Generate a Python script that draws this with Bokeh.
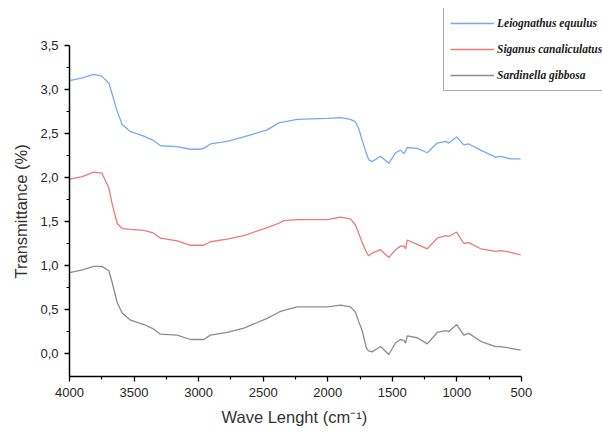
from bokeh.plotting import figure
from bokeh.models import Range1d, FixedTicker, Title
from bokeh.embed import file_html
from bokeh.resources import INLINE

wavenumber = [4000, 3900, 3812, 3750, 3695, 3670, 3631, 3592, 3527, 3424, 3350, 3295, 3166, 3063,
              2990, 2960, 2908, 2779, 2650, 2469, 2379, 2340, 2236, 2004, 1901, 1824, 1785, 1759,
              1733, 1700, 1682, 1656, 1591, 1527, 1475, 1436, 1410, 1397, 1384, 1307, 1229, 1152,
              1087, 1062, 1002, 946, 907, 816, 700, 661, 584, 506]

leiognathus = [3.10, 3.13, 3.17, 3.15, 3.07, 2.95, 2.75, 2.60, 2.52, 2.47, 2.42, 2.36, 2.35, 2.32,
               2.32, 2.33, 2.38, 2.41, 2.46, 2.54, 2.62, 2.63, 2.66, 2.67, 2.68, 2.66, 2.63, 2.55,
               2.42, 2.27, 2.20, 2.18, 2.24, 2.16, 2.28, 2.31, 2.27, 2.30, 2.34, 2.33, 2.28, 2.39,
               2.41, 2.39, 2.46, 2.37, 2.38, 2.31, 2.23, 2.24, 2.21, 2.21]

siganus = [1.98, 2.01, 2.06, 2.05, 1.88, 1.70, 1.48, 1.42, 1.41, 1.40, 1.37, 1.31, 1.28, 1.23,
           1.23, 1.23, 1.27, 1.30, 1.34, 1.43, 1.48, 1.51, 1.52, 1.52, 1.55, 1.53, 1.46, 1.36,
           1.26, 1.15, 1.11, 1.14, 1.18, 1.09, 1.18, 1.22, 1.22, 1.19, 1.29, 1.24, 1.19, 1.31,
           1.34, 1.33, 1.38, 1.25, 1.26, 1.19, 1.16, 1.17, 1.15, 1.12]

sardinella = [0.92, 0.95, 0.99, 0.99, 0.94, 0.81, 0.58, 0.46, 0.38, 0.33, 0.28, 0.22, 0.21, 0.16,
              0.16, 0.16, 0.21, 0.24, 0.29, 0.40, 0.47, 0.49, 0.53, 0.53, 0.55, 0.53, 0.47, 0.36,
              0.26, 0.06, 0.03, 0.02, 0.08, -0.01, 0.12, 0.16, 0.15, 0.12, 0.20, 0.18, 0.11, 0.24,
              0.26, 0.25, 0.33, 0.21, 0.23, 0.14, 0.08, 0.08, 0.06, 0.04]

series_names = ["Leiognathus equulus", "Siganus canaliculatus", "Sardinella gibbosa"]
series_colors = ["#76aaf4", "#f07878", "#8c8c8c"]

x_ticks = [4000, 3500, 3000, 2500, 2000, 1500, 1000, 500]
x_minor = [3750, 3250, 2750, 2250, 1750, 1250, 750]
y_ticks = [0.0, 0.5, 1.0, 1.5, 2.0, 2.5, 3.0, 3.5]
y_minor = [0.25, 0.75, 1.25, 1.75, 2.25, 2.75, 3.25]
y_tick_labels = ["0,0", "0,5", "1,0", "1,5", "2,0", "2,5", "3,0", "3,5"]
x_label = "Wave Lenght (cm\u207b\u00b9)"
y_label = "Transmittance (%)"

frame_h = 370
p = figure(width=602, height=432, output_backend="svg", toolbar_location=None,
           x_range=Range1d(4000, -128), y_range=Range1d(-0.26, 3.918),
           min_border_left=69, min_border_right=0, min_border_top=8, min_border_bottom=54)
p.outline_line_color = None
p.grid.visible = False
p.background_fill_color = "white"

for vals, name, col in zip([leiognathus, siganus, sardinella], series_names, series_colors):
    p.line(wavenumber, vals, line_color=col, line_width=1.3, legend_label=name)

for ax in (p.xaxis[0], p.yaxis[0]):
    ax.axis_line_color = "black"
    ax.axis_line_width = 1.5
    ax.major_tick_line_color = "black"
    ax.minor_tick_line_color = "black"
    ax.major_tick_line_width = 1.3
    ax.minor_tick_line_width = 1.2
    ax.major_tick_in = 0
    ax.major_tick_out = 5
    ax.minor_tick_in = 0
    ax.minor_tick_out = 3
    ax.major_label_text_font = "Liberation Sans"
    ax.major_label_text_font_size = "13px"
    ax.major_label_text_color = "#262626"

p.xaxis[0].ticker = FixedTicker(ticks=x_ticks, minor_ticks=x_minor)
p.xaxis[0].bounds = (500, 4000)
p.xaxis[0].major_label_standoff = 6

p.yaxis[0].ticker = FixedTicker(ticks=y_ticks, minor_ticks=y_minor)
p.yaxis[0].bounds = (-0.26, 3.5)
p.yaxis[0].major_label_overrides = {t: l for t, l in zip(y_ticks, y_tick_labels)}
p.yaxis[0].major_label_standoff = 6

p.add_layout(Title(text=y_label, align="left", offset=98, standoff=15,
                   text_font="Liberation Sans", text_font_size="16.5px",
                   text_font_style="normal", text_color="#333333"), "left")

p.add_layout(Title(text=x_label, align="left", offset=152, standoff=13,
                   text_font="Liberation Sans", text_font_size="16.5px",
                   text_font_style="normal", text_color="#333333"), "below")

lg = p.legend[0]
lg.location = (374, frame_h - 3 - 82)
lg.margin = 0
lg.padding = 6
lg.spacing = 8
lg.label_height = 18
lg.glyph_height = 18
lg.glyph_width = 44
lg.label_standoff = 3
lg.label_text_font = "Liberation Serif"
lg.label_text_font_style = "bold italic"
lg.label_text_font_size = "11.5px"
lg.label_text_color = "#222222"
lg.border_line_color = "#555555"
lg.border_line_width = 1
lg.background_fill_color = "white"
lg.background_fill_alpha = 1.0

open("out.html", "w").write(file_html(p, INLINE))
